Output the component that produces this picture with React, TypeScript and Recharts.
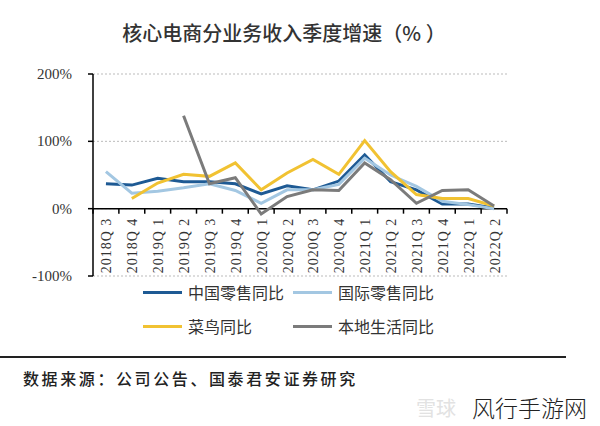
import { CartesianGrid, Line, LineChart, ReferenceLine, XAxis, YAxis } from "recharts";

const quarters = [
  "2018Q 3", "2018Q 4", "2019Q 1", "2019Q 2", "2019Q 3", "2019Q 4", "2020Q 1", "2020Q 2",
  "2020Q 3", "2020Q 4", "2021Q 1", "2021Q 2", "2021Q 3", "2021Q 4", "2022Q 1", "2022Q 2",
];
const chinaRetail = [37, 35, 45, 40, 40, 37, 22, 34, 28, 41, 80, 40, 28, 7, 7, 1];
const intlRetail = [55, 23, 26, 31, 37, 27, 8, 28, 28, 36, 75, 50, 33, 11, 6, 0];
const cainiao = [null, 15, 38, 51, 48, 68, 28, 53, 73, 51, 101, 55, 21, 15, 15, 4];
const localLife = [null, null, null, 138, 37, 46, -8, 18, 28, 27, 68, 43, 8, 27, 28, 4];
const yTicks = [-100, 0, 100, 200];

const series = [
  { key: "china", name: "中国零售同比", color: "#1E5A94" },
  { key: "intl", name: "国际零售同比", color: "#A3C7E2" },
  { key: "cainiao", name: "菜鸟同比", color: "#F1C232" },
  { key: "local", name: "本地生活同比", color: "#7B7B7B" },
];

const data = quarters.map((q, i) => ({
  q,
  china: chinaRetail[i],
  intl: intlRetail[i],
  cainiao: cainiao[i],
  local: localLife[i],
}));

const W = 600;
const H = 426;
const PLOT_LEFT = 93;
const PLOT_RIGHT = 507;
const PLOT_TOP = 74;
const PLOT_BOTTOM = 276;
const PLOT_H = PLOT_BOTTOM - PLOT_TOP;
const BAND = (PLOT_RIGHT - PLOT_LEFT) / quarters.length;
const Y_MIN = yTicks[0];
const Y_MAX = yTicks[yTicks.length - 1];

const serif = "Liberation Serif, DejaVu Serif, serif";
const cjk = "'Noto Sans CJK SC', 'Noto Sans', sans-serif";

function QuarterTick(props: any) {
  const { x, y, payload, index } = props;
  // x axis sits on the 0% line, not at the bottom of the plot
  const zeroY = y - (PLOT_H * (0 - Y_MIN)) / (Y_MAX - Y_MIN);
  const left = x - BAND / 2;
  const right = x + BAND / 2;
  return (
    <g>
      <line x1={left} y1={zeroY} x2={left} y2={zeroY + 5} stroke="#000" strokeWidth={1.5} />
      {index === quarters.length - 1 && (
        <line x1={right} y1={zeroY} x2={right} y2={zeroY + 5} stroke="#000" strokeWidth={1.5} />
      )}
      <text
        x={x + 1}
        y={zeroY + 9}
        transform={`rotate(-90, ${x + 1}, ${zeroY + 9})`}
        textAnchor="end"
        dominantBaseline="central"
        style={{ fontFamily: serif }}
        fontSize={14}
        letterSpacing={1}
        fill="#333"
      >
        {payload.value}
      </text>
    </g>
  );
}

function ValueTick(props: any) {
  const { x, y, payload } = props;
  return (
    <text x={x} y={y} textAnchor="end" dominantBaseline="central" style={{ fontFamily: serif }} fontSize={15} fill="#333">
      {`${payload.value}%`}
    </text>
  );
}

export default function App() {
  return (
    <div style={{ position: "absolute", left: 0, top: 0, width: W, height: H, background: "#fff" }}>
      <div
        style={{
          position: "absolute",
          left: 0,
          width: 568,
          top: 20,
          textAlign: "center",
          fontFamily: cjk,
          fontSize: 20,
          fontWeight: 500,
          color: "#333",
          lineHeight: "26px",
          whiteSpace: "pre",
        }}
      >
        核心电商分业务收入季度增速（% ）
      </div>

      <LineChart
        width={W}
        height={H}
        data={data}
        margin={{ top: PLOT_TOP, right: W - PLOT_RIGHT, bottom: H - PLOT_BOTTOM - 1, left: PLOT_LEFT - 80 }}
      >
        <CartesianGrid vertical={false} stroke="#bbb" strokeDasharray="2 2" />
        <XAxis
          dataKey="q"
          height={1}
          padding={{ left: BAND / 2, right: BAND / 2 }}
          axisLine={false}
          tickLine={false}
          tickSize={0}
          tickMargin={0}
          interval={0}
          tick={<QuarterTick />}
        />
        <YAxis
          width={80}
          domain={[Y_MIN, Y_MAX]}
          ticks={yTicks}
          axisLine={{ stroke: "#000", strokeWidth: 1.5 }}
          tickLine={{ stroke: "#000", strokeWidth: 1.5 }}
          tickSize={5}
          tickMargin={16}
          tick={<ValueTick />}
        />
        <ReferenceLine y={0} stroke="#000" strokeWidth={1.5} />
        {series.map((s) => (
          <Line
            key={s.key}
            type="linear"
            dataKey={s.key}
            name={s.name}
            stroke={s.color}
            strokeWidth={3}
            dot={false}
            activeDot={false}
            isAnimationActive={false}
          />
        ))}
      </LineChart>

      <div
        style={{
          position: "absolute",
          left: 143,
          top: 279,
          display: "grid",
          gridTemplateColumns: "150px 150px",
          rowGap: 8,
          fontFamily: cjk,
          fontSize: 16,
          color: "#333",
        }}
      >
        {series.map((s) => (
          <div key={s.key} style={{ display: "flex", alignItems: "center", height: 26 }}>
            <span style={{ display: "inline-block", width: 39, height: 3, background: s.color, marginRight: 6 }} />
            <span>{s.name}</span>
          </div>
        ))}
      </div>

      <div style={{ position: "absolute", left: 0, top: 356, width: 566, height: 2, background: "#222" }} />
      <div
        style={{
          position: "absolute",
          left: 23,
          top: 366,
          fontFamily: cjk,
          fontSize: 16,
          fontWeight: 500,
          letterSpacing: 2.6,
          color: "#222",
          lineHeight: "24px",
        }}
      >
        数据来源：公司公告、国泰君安证券研究
      </div>

      <div
        style={{
          position: "absolute",
          left: 416,
          top: 396,
          fontFamily: cjk,
          fontSize: 20,
          color: "#e2e2e2",
          lineHeight: "24px",
        }}
      >
        雪球
      </div>
      <div
        style={{
          position: "absolute",
          left: 472,
          top: 394,
          fontFamily: cjk,
          fontSize: 23,
          fontWeight: 300,
          color: "#222",
          lineHeight: "26px",
          whiteSpace: "nowrap",
        }}
      >
        风行手游网
      </div>
    </div>
  );
}
